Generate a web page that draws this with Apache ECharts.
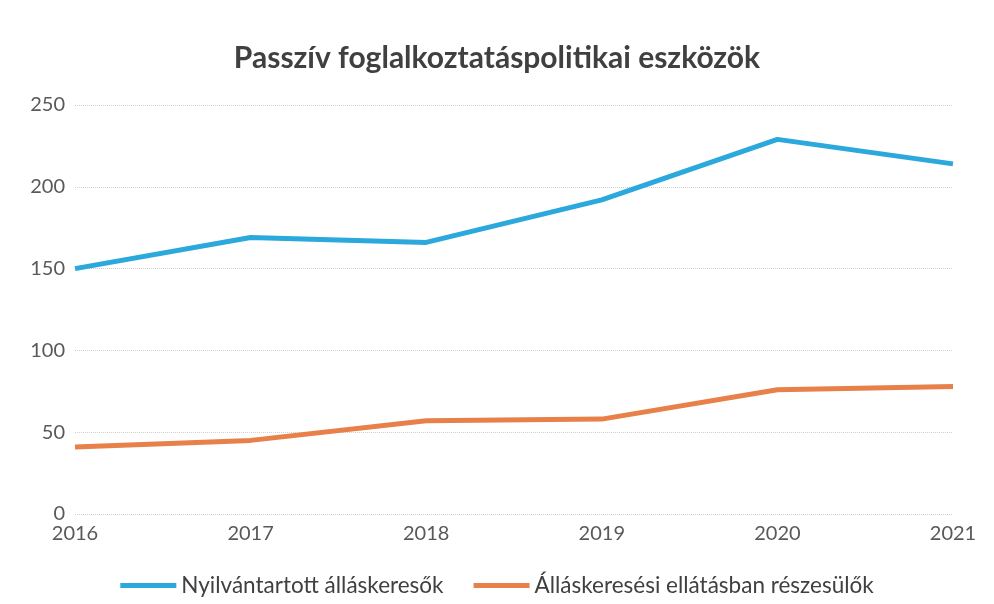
<!DOCTYPE html>
<html>
<head>
<meta charset="utf-8">
<script src="https://cdn.jsdelivr.net/npm/echarts@6/dist/echarts.min.js"></script>
<style>
  html, body { margin: 0; padding: 0; background: #fff; }
  #chart { width: 994px; height: 604px; }
</style>
</head>
<body>
<div id="chart"></div>
<script>
// adatok
var years = ['2016', '2017', '2018', '2019', '2020', '2021'];
var nyilvantartott = [150, 169, 166, 192, 229, 214];
var ellatott = [41, 45, 57, 58, 76, 78];

var chart = echarts.init(document.getElementById('chart'));

var option = {
  backgroundColor: '#fff',
  textStyle: { fontFamily: 'Lato' },
  title: {
    text: 'Passzív foglalkoztatáspolitikai eszközök',
    left: 'center',
    top: 38,
    textStyle: { fontSize: 30, fontWeight: 'bold', color: '#404040', fontFamily: 'Lato' }
  },
  grid: { left: 75, right: 41, top: 105, bottom: 90 },
  legend: {
    bottom: 2,
    left: 'center',
    itemWidth: 56,
    itemHeight: 5,
    itemGap: 30,
    icon: 'rect',
    textStyle: { fontSize: 22.5, color: '#404040', fontFamily: 'Lato' },
    data: ['Nyilvántartott álláskeresők', 'Álláskeresési ellátásban részesülők']
  },
  xAxis: {
    type: 'category',
    data: years,
    boundaryGap: false,
    axisLine: { show: false },
    axisTick: { show: false },
    axisLabel: { fontSize: 20, color: '#595959', margin: 10 }
  },
  yAxis: {
    type: 'value',
    min: 0,
    max: 250,
    interval: 50,
    axisLabel: { fontSize: 20, color: '#595959', margin: 10 },
    splitLine: { lineStyle: { color: '#cfcfcf', type: 'dotted', width: 1 } }
  },
  series: [
    {
      name: 'Nyilvántartott álláskeresők',
      type: 'line',
      data: nyilvantartott,
      symbol: 'none',
      color: '#2ba8dc',
      lineStyle: { width: 5, color: '#2ba8dc' }
    },
    {
      name: 'Álláskeresési ellátásban részesülők',
      type: 'line',
      data: ellatott,
      symbol: 'none',
      color: '#e8804a',
      lineStyle: { width: 5, color: '#e8804a' }
    }
  ]
};

chart.setOption(option);
</script>
</body>
</html>
